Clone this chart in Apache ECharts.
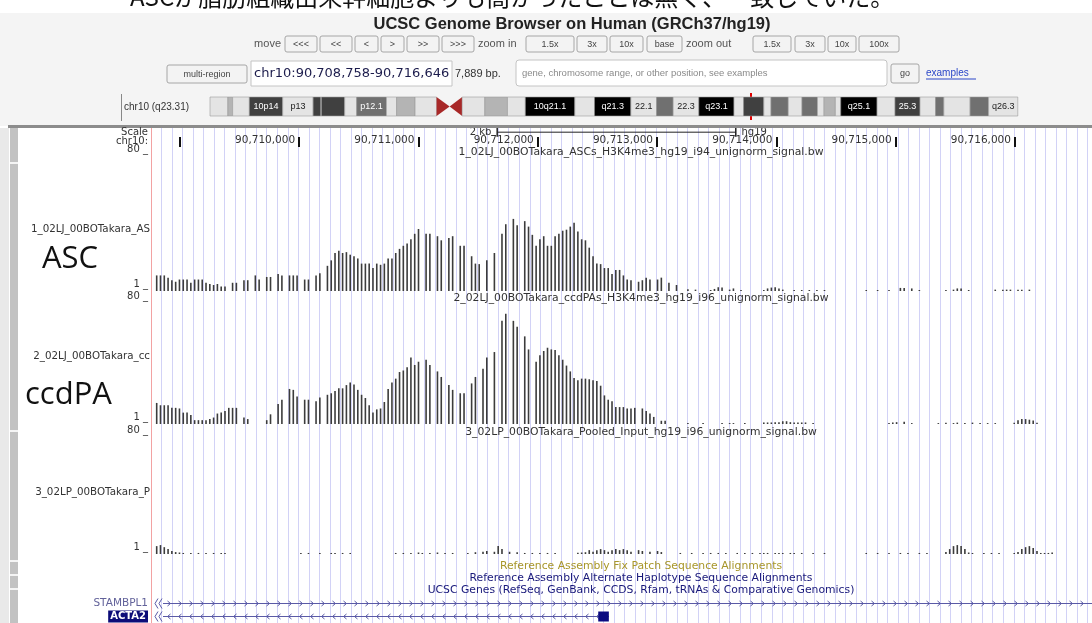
<!DOCTYPE html>
<html>
<head>
<meta charset="utf-8">
<title>UCSC Genome Browser on Human (GRCh37/hg19)</title>
<script src="https://cdn.jsdelivr.net/npm/echarts@6/dist/echarts.min.js"></script>
<style>
html, body { margin: 0; padding: 0; background: #fff; }
#main { width: 1092px; height: 623px; }
</style>
</head>
<body>
<div id="main"></div>
<script>
// ---- data ----
var regionStart = 90708758, regionEnd = 90716646;
var binCount = 248;          // signal bins across the window
var guideBp = 88.2;          // spacing of the blue guide lines
var trackMax = 80;
var rulerTicks = [90709000, 90710000, 90711000, 90712000, 90713000, 90714000, 90715000, 90716000];
var scaleBar = [90711660, 90713660];
var chr10Length = 135.534747; // Mb

// [bin, value]
var ascBars = [
    [1, 9.1], [2, 9.1], [3, 9.1], [4, 7.8], [5, 6.3], [6, 5.4], [7, 6.7], [8, 6.7], [9, 6.7], [10, 4.8],
    [11, 6.7], [12, 6.7], [13, 6.7], [14, 4.8], [15, 4.1], [16, 3.5], [17, 4.1], [18, 2.6], [19, 2.6],
    [21, 4.8], [22, 4.8], [24, 6.3], [25, 6.3], [27, 9.1], [28, 6.7], [30, 8.2], [31, 8.2], [33, 10], [34, 9.1],
    [36, 9.1], [37, 9.1], [38, 9.1], [40, 6.7], [41, 6.7], [43, 9.1], [44, 10.4],
    [46, 14.7], [47, 17.9], [48, 22.2], [49, 23.5], [50, 22.2], [51, 22.7], [52, 21.2], [53, 20.3], [54, 19],
    [55, 16], [56, 16], [57, 16], [58, 13.4], [59, 16], [60, 15.3], [61, 16], [62, 19], [63, 19], [64, 22.2],
    [65, 24.6], [66, 26.4], [67, 27.8], [68, 30.2], [69, 33.4], [70, 36.2],
    [72, 33.4], [73, 33.4], [75, 32], [76, 29.6], [78, 30.9], [79, 32], [81, 26.4], [82, 26.4], [84, 20.3],
    [85, 16], [86, 15.7], [88, 17.9], [90, 22.2],
    [92, 33.4], [93, 39], [95, 42.1], [96, 38.4], [98, 40.8], [99, 37.6], [100, 32.8], [101, 26.4], [102, 30.2],
    [103, 32], [104, 26.4], [105, 26.4], [106, 32], [107, 33.4], [108, 35.2], [109, 35.8], [110, 37.6], [111, 39.9],
    [112, 34.7], [113, 30.2], [114, 29.6], [115, 25.3], [116, 20.3], [117, 16], [118, 15.7], [119, 13.4], [120, 13.4],
    [121, 10], [122, 12.3], [123, 12.3], [124, 9.1], [125, 6.7], [126, 6.3], [128, 5.4], [129, 6.3], [130, 7.8],
    [131, 6.7], [133, 6.7], [134, 7.8], [136, 4.8], [138, 3.5],
    [141, 1.0], [143, 0.8], [147, 0.6], [148, 1.2], [149, 2.2], [150, 2.0], [152, 0.8], [153, 1.5], [155, 0.6],
    [161, 0.6], [162, 1.5], [163, 2.0], [164, 2.2], [165, 1.5], [166, 0.8], [169, 0.6], [171, 0.6], [173, 0.6],
    [175, 0.6], [177, 0.6], [188, 0.6], [191, 0.6], [194, 0.6], [197, 1.8], [198, 1.8], [200, 1.5], [202, 0.6],
    [209, 0.6], [211, 0.8], [212, 1.5], [213, 1.5], [215, 0.6],
    [222, 0.8], [224, 0.8], [225, 0.8], [226, 0.8], [228, 0.8], [229, 0.8], [231, 0.8]
];

var ccdpaBars = [
    [1, 13.7], [2, 12.2], [3, 12.2], [4, 12.2], [5, 10.5], [6, 10.5], [7, 10.1], [8, 7.4], [9, 7.4], [10, 5.9],
    [11, 2.5], [12, 2.5], [13, 2.5], [14, 2.5], [15, 3.2], [16, 4.2], [17, 6.8], [18, 7.4], [19, 8.4], [20, 10.5],
    [21, 10.5], [22, 10.5], [24, 4.2], [25, 3.2], [30, 2.5], [31, 6.3], [33, 13], [34, 15.8], [36, 22.8], [37, 22.2],
    [38, 17.9], [40, 15.8], [41, 15.8], [43, 14.8], [44, 17.3],
    [46, 19], [47, 20], [48, 21.5], [49, 23.2], [50, 23.2], [51, 25.3], [52, 27], [53, 25.7], [54, 22.2], [55, 19],
    [56, 16.9], [57, 12.2], [58, 7.4], [59, 9.5], [60, 10.1], [61, 14.3], [62, 22.8], [63, 27], [64, 29.5],
    [65, 33.8], [66, 34.8], [67, 36.9], [68, 43.3], [69, 38.4], [70, 40.5], [72, 41.8], [73, 38.4], [75, 34.2],
    [76, 30.6], [78, 25.3], [79, 22.2], [81, 20], [82, 20], [84, 26.4], [85, 30.6], [87, 35.9], [88, 43.3], [90, 46.8],
    [92, 67.1], [93, 71.7], [95, 67.1], [96, 63.3], [98, 57], [99, 48.5], [101, 40.5], [102, 44.7], [103, 47.5],
    [104, 49.6], [105, 48.5], [106, 48.1], [107, 44.7], [108, 41.8], [109, 38], [110, 34.2], [111, 30], [112, 28.5],
    [113, 29.5], [114, 29.5], [115, 29.1], [116, 28.5], [117, 27.9], [118, 24.9], [119, 18.6], [120, 15.8],
    [121, 14.8], [122, 11], [123, 11], [124, 11], [125, 10.1], [126, 10.1], [127, 10.5], [129, 10.1], [130, 8.4],
    [131, 6.8], [132, 4.6], [134, 2.1], [135, 2.1],
    [141, 0.6], [145, 0.6], [150, 0.6], [152, 0.6], [153, 0.6], [156, 0.6],
    [161, 1.0], [162, 1.0], [163, 1.0], [164, 1.2], [165, 1.2], [166, 1.8], [167, 1.8], [168, 1.2], [169, 1.0],
    [170, 1.0], [171, 1.0], [172, 1.0], [174, 0.6],
    [194, 0.6], [195, 1.0], [196, 1.2], [198, 1.5], [200, 0.6],
    [207, 0.6], [209, 0.8], [211, 0.6], [212, 0.9], [214, 0.6], [216, 0.9], [218, 0.6], [220, 0.6], [222, 0.6],
    [227, 0.8], [228, 2.5], [229, 3.2], [230, 3.2], [231, 2.8], [232, 2.2], [233, 0.8]
];

var inputBars = [
    [1, 5.3], [2, 6.0], [3, 4.6], [4, 3.3], [5, 2.0], [6, 1.3], [7, 1.0], [8, 0.7], [10, 0.7], [12, 0.7],
    [14, 0.7], [16, 0.7], [18, 0.7], [19, 0.7],
    [39, 0.7], [41, 0.7], [44, 0.7], [47, 0.7], [48, 0.7], [50, 0.7], [52, 0.7],
    [64, 0.7], [66, 0.7], [68, 0.7], [70, 1.0], [71, 0.7], [73, 0.7], [75, 1.0], [77, 0.7], [79, 0.7],
    [83, 0.7], [85, 1.2], [87, 1.5], [88, 2.0], [90, 1.5], [91, 5.3], [92, 3.3], [94, 1.5], [96, 1.2], [98, 0.7],
    [100, 0.7], [102, 0.7], [104, 0.7], [106, 0.7],
    [112, 0.8], [113, 1.0], [114, 1.2], [115, 2.6], [116, 1.5], [117, 2.6], [118, 3.3], [119, 2.6], [120, 1.5],
    [121, 2.6], [122, 3.3], [123, 2.6], [124, 3.3], [125, 2.6], [126, 1.5], [128, 2.6], [129, 2.0], [131, 1.5],
    [133, 2.0], [134, 1.3],
    [139, 0.7], [142, 0.7], [145, 0.7], [147, 0.7], [149, 0.7], [151, 0.7], [154, 0.7], [156, 0.7], [158, 0.7],
    [160, 0.7], [161, 0.7], [162, 0.7], [164, 0.7], [165, 0.7], [166, 0.7], [168, 0.7], [169, 0.7], [171, 0.7],
    [174, 0.7], [177, 0.7],
    [188, 0.7], [191, 0.7], [194, 0.7], [197, 0.7], [199, 0.7], [202, 0.7], [204, 0.7],
    [209, 1.3], [210, 3.3], [211, 5.3], [212, 6.0], [213, 5.3], [214, 3.3], [215, 1.0], [216, 0.7],
    [219, 0.7], [221, 0.7], [223, 0.7],
    [227, 0.7], [228, 1.3], [229, 3.3], [230, 4.6], [231, 5.3], [232, 4.0], [233, 2.0], [234, 0.7], [235, 0.7],
    [236, 0.7], [237, 1.0]
];

var geneNames = ['STAMBPL1', 'ACTA2'];
var geneStart = [90700000, 90700000];
var geneEnd = [90730000, 90712596];
var geneStrand = ['+', '-'];
var geneExons = [[], [[90712507, 90712596]]];

// chr10 cytobands (Mb): start, end, stain, shown label
var cytoBands = [
    [0, 3.0, 'gneg', ''], [3.0, 3.8, 'gpos25', ''], [3.8, 6.6, 'gneg', ''], [6.6, 12.2, 'gpos75', '10p14'],
    [12.2, 17.3, 'gneg', 'p13'], [17.3, 18.6, 'gpos75', ''], [18.6, 18.7, 'gneg', ''], [18.7, 22.6, 'gpos75', ''],
    [22.6, 24.6, 'gneg', ''], [24.6, 29.6, 'gpos50', 'p12.1'], [29.6, 31.3, 'gneg', ''], [31.3, 34.4, 'gpos25', ''],
    [34.4, 38.0, 'gneg', ''], [38.0, 40.2, 'acen', ''], [40.2, 42.3, 'acen', ''], [42.3, 46.1, 'gneg', ''],
    [46.1, 49.9, 'gpos25', ''], [49.9, 52.9, 'gneg', ''], [52.9, 61.2, 'gpos100', '10q21.1'], [61.2, 64.5, 'gneg', ''],
    [64.5, 70.6, 'gpos100', 'q21.3'], [70.6, 74.9, 'gneg', '22.1'], [74.9, 77.7, 'gpos50', ''], [77.7, 82.0, 'gneg', '22.3'],
    [82.0, 87.9, 'gpos100', 'q23.1'], [87.9, 89.5, 'gneg', ''], [89.5, 92.9, 'gpos75', ''], [92.9, 94.1, 'gneg', ''],
    [94.1, 97.0, 'gpos50', ''], [97.0, 99.3, 'gneg', ''], [99.3, 101.9, 'gpos50', ''], [101.9, 103.0, 'gneg', ''],
    [103.0, 104.9, 'gpos25', ''], [104.9, 105.8, 'gneg', ''], [105.8, 111.9, 'gpos100', 'q25.1'], [111.9, 114.9, 'gneg', ''],
    [114.9, 119.1, 'gpos75', '25.3'], [119.1, 121.7, 'gneg', ''], [121.7, 123.1, 'gpos50', ''], [123.1, 127.5, 'gneg', ''],
    [127.5, 130.6, 'gpos50', ''], [130.6, 135.5, 'gneg', 'q26.3']
];

// ---- styling helpers ----
var uiFont = '"Liberation Sans", Arial, sans-serif';
var trackFont = '"DejaVu Sans", sans-serif';
var stainColor = { gneg: '#e4e4e4', gpos25: '#b4b4b4', gpos50: '#707070', gpos75: '#404040', gpos100: '#000', acen: '#a82828' };

var binLabels = [];
for (var i = 0; i < binCount; i++) {
    binLabels.push(String(Math.round(regionStart + i * (regionEnd - regionStart) / binCount)));
}

function txt(text, x, y, size, opts) {
    opts = opts || {};
    return {
        type: 'text', z: 20,
        style: {
            text: text, x: x, y: y,
            font: (opts.weight || '') + ' ' + size + 'px ' + (opts.family || uiFont),
            fill: opts.color || '#333',
            align: opts.align || 'left',
            verticalAlign: 'middle'
        }
    };
}

function button(x, y, w, h, label) {
    return [{
        type: 'rect', z: 10,
        shape: { x: x, y: y, width: w, height: h, r: 2 },
        style: { fill: '#f3f3f3', stroke: '#a6a6a6', lineWidth: 1 }
    }, txt(label, x + w / 2, y + h / 2 + 0.5, 9, { align: 'center', color: '#444' })];
}

var g = [];
// page header panel
g.push({ type: 'rect', z: 1, shape: { x: 0, y: 13, width: 1092, height: 113 }, style: { fill: '#f4f4f4' } });
g.push(txt('ASCが脂肪組織由来幹細胞よりも高かったことは無く、一致していた。', 130, -3, 24,
    { family: '"Noto Sans CJK JP"', color: '#111' }));
g.push(txt('UCSC Genome Browser on Human (GRCh37/hg19)', 572, 24, 16.5, { weight: 'bold', align: 'center', color: '#222' }));

// navigation row
g.push(txt('move', 281, 44, 11, { align: 'right', color: '#555' }));
[['<<<', 285, 32], ['<<', 320, 32], ['<', 355, 23], ['>', 381, 23], ['>>', 407, 32], ['>>>', 442, 32]]
    .forEach(function(b) { g = g.concat(button(b[1], 36, b[2], 16, b[0])); });
g.push(txt('zoom in', 478, 44, 11, { color: '#555' }));
[['1.5x', 526, 48], ['3x', 577, 30], ['10x', 610, 33], ['base', 647, 35]]
    .forEach(function(b) { g = g.concat(button(b[1], 36, b[2], 16, b[0])); });
g.push(txt('zoom out', 686, 44, 11, { color: '#555' }));
[['1.5x', 753, 38], ['3x', 795, 30], ['10x', 828, 28], ['100x', 859, 40]]
    .forEach(function(b) { g = g.concat(button(b[1], 36, b[2], 16, b[0])); });

// position row
g = g.concat(button(167, 65, 80, 18, 'multi-region'));
g.push({ type: 'rect', z: 10, shape: { x: 251, y: 61, width: 201, height: 25 }, style: { fill: '#fff', stroke: '#c4c4c4' } });
g.push(txt('chr10:90,708,758-90,716,646', 254, 74, 13, { color: '#1c1c4c', family: trackFont }));
g.push(txt('7,889 bp.', 455, 74, 11, { color: '#333' }));
g.push({ type: 'rect', z: 10, shape: { x: 516, y: 60, width: 371, height: 26, r: 3 }, style: { fill: '#fff', stroke: '#c4c4c4' } });
g.push(txt('gene, chromosome range, or other position, see examples', 522, 73, 9.5, { color: '#8a8a8a' }));
g = g.concat(button(891, 64, 28, 19, 'go'));
g.push(txt('examples', 926, 73, 10, { color: '#2a46c8' }));
g.push({ type: 'line', z: 10, shape: { x1: 926, y1: 79, x2: 976, y2: 79 }, style: { stroke: '#2a46c8', lineWidth: 1 } });

// ideogram row
g.push({ type: 'line', z: 10, shape: { x1: 121.5, y1: 94, x2: 121.5, y2: 121 }, style: { stroke: '#888', lineWidth: 1 } });
g.push(txt('chr10 (q23.31)', 124, 107, 10, { color: '#333' }));

// track image frame
g.push({ type: 'rect', z: 10, shape: { x: 8, y: 125, width: 1084, height: 3 }, style: { fill: '#8c8c8c' } });
g.push({ type: 'rect', z: 10, shape: { x: 0, y: 128, width: 9, height: 495 }, style: { fill: '#e9e9e9' } });
g.push({ type: 'rect', z: 10, shape: { x: 10, y: 128, width: 8, height: 495 }, style: { fill: '#c2c2c2' } });
[162, 430, 560, 574, 588].forEach(function(y) {
    g.push({ type: 'rect', z: 11, shape: { x: 10, y: y, width: 8, height: 2 }, style: { fill: '#f4f4f4' } });
});

// left labels
g.push(txt('Scale', 148, 132, 10, { align: 'right', family: trackFont }));
g.push(txt('chr10:', 148, 141, 10, { align: 'right', family: trackFont }));
g.push(txt('1_02LJ_00BOTakara_AS', 150, 229, 10.3, { align: 'right', family: trackFont }));
g.push(txt('ASC', 42, 259, 31, { family: '"Open Sans", sans-serif', color: '#111' }));
g.push(txt('2_02LJ_00BOTakara_cc', 150, 356, 10.3, { align: 'right', family: trackFont }));
g.push(txt('ccdPA', 25, 395, 31, { family: '"Open Sans", sans-serif', color: '#111' }));
g.push(txt('3_02LP_00BOTakara_P', 150, 492, 10.3, { align: 'right', family: trackFont }));

// centre labels
var mid = 641;
g.push(txt('1_02LJ_00BOTakara_ASCs_H3K4me3_hg19_i94_unignorm_signal.bw', mid, 152, 10.8, { align: 'center', family: trackFont }));
g.push(txt('2_02LJ_00BOTakara_ccdPAs_H3K4me3_hg19_i96_unignorm_signal.bw', mid, 298, 10.8, { align: 'center', family: trackFont }));
g.push(txt('3_02LP_00BOTakara_Pooled_Input_hg19_i96_unignorm_signal.bw', mid, 432, 10.8, { align: 'center', family: trackFont }));
g.push(txt('Reference Assembly Fix Patch Sequence Alignments', mid, 566, 10.8, { align: 'center', color: '#a8962a', family: trackFont }));
g.push(txt('Reference Assembly Alternate Haplotype Sequence Alignments', mid, 578, 10.8, { align: 'center', color: '#18187a', family: trackFont }));
g.push(txt('UCSC Genes (RefSeq, GenBank, CCDS, Rfam, tRNAs & Comparative Genomics)', mid, 590, 10.8, { align: 'center', color: '#18187a', family: trackFont }));

// ---- render helpers ----
function renderBand(params, api) {
    var b = cytoBands[params.dataIndex];
    var cs = params.coordSys;
    var x0 = api.coord([b[0], 0])[0], x1 = api.coord([b[1], 0])[0];
    var y = cs.y + 4, h = cs.height - 8;
    var kids = [];
    if (b[2] === 'acen') {
        var prevAcen = params.dataIndex > 0 && cytoBands[params.dataIndex - 1][2] === 'acen';
        var pts = prevAcen ? [[x0, y + h / 2], [x1, y], [x1, y + h]] : [[x0, y], [x1, y + h / 2], [x0, y + h]];
        kids.push({ type: 'polygon', shape: { points: pts }, style: { fill: stainColor.acen } });
    } else {
        kids.push({
            type: 'rect', shape: { x: x0, y: y, width: x1 - x0, height: h },
            style: { fill: stainColor[b[2]], stroke: '#9a9a9a', lineWidth: 0.6 }
        });
        if (b[3]) {
            var dark = b[2] === 'gpos100' || b[2] === 'gpos75' || b[2] === 'gpos50';
            kids.push({
                type: 'text',
                style: {
                    text: b[3], x: (x0 + x1) / 2, y: y + h / 2, align: 'center', verticalAlign: 'middle',
                    font: '9px ' + uiFont, fill: dark ? '#fff' : '#222'
                }
            });
        }
    }
    return { type: 'group', children: kids };
}

function renderGene(params, api) {
    var k = params.dataIndex;
    var cs = params.coordSys;
    var color = '#5a5aa6';
    var y = api.coord([regionStart, k])[1];
    var left = api.coord([geneStart[k], k])[0];
    var right = api.coord([geneEnd[k], k])[0];
    var x0 = Math.max(left, cs.x), x1 = Math.min(right, cs.x + cs.width);
    var kids = [];
    if (left < cs.x) {
        [cs.x + 4, cs.x + 8].forEach(function(cx) {
            kids.push({ type: 'polyline', shape: { points: [[cx + 3, y - 5], [cx, y], [cx + 3, y + 5]] },
                style: { stroke: color, fill: null, lineWidth: 1 } });
        });
        x0 = cs.x + 12;
    }
    kids.push({ type: 'line', shape: { x1: x0, y1: y, x2: x1, y2: y }, style: { stroke: color, lineWidth: 1 } });
    var d = geneStrand[k] === '+' ? -1.5 : 1.5;
    for (var cx = x0 + 6; cx < x1 - 4; cx += 11) {
        kids.push({ type: 'polyline', shape: { points: [[cx + d, y - 2.5], [cx - d, y], [cx + d, y + 2.5]] },
            style: { stroke: color, fill: null, lineWidth: 1 } });
    }
    geneExons[k].forEach(function(ex) {
        var a = api.coord([ex[0], k])[0], b = api.coord([ex[1], k])[0];
        kids.push({ type: 'rect', shape: { x: a, y: y - 5, width: b - a, height: 10 }, style: { fill: '#0a0a80' } });
    });
    return { type: 'group', children: kids };
}

function trackYAxis(grid) {
    return {
        gridIndex: grid, type: 'value', min: 0, max: trackMax,
        axisLine: { show: false }, axisTick: { show: false }, splitLine: { show: false },
        axisLabel: {
            customValues: [1, trackMax], margin: 3, verticalAlign: 'bottom',
            fontSize: 10, fontFamily: trackFont, color: '#333',
            formatter: function(v) { return v + ' _'; }
        }
    };
}

function trackXAxis(grid) {
    return { gridIndex: grid, type: 'category', data: binLabels, show: false };
}

function trackSeries(idx, data) {
    return {
        type: 'bar', xAxisIndex: idx, yAxisIndex: idx, data: data,
        barWidth: 1.6, silent: true, z: 5,
        itemStyle: { color: '#3c3c3c' }
    };
}

var chart = echarts.init(document.getElementById('main'));
var option = {
    animation: false,
    backgroundColor: '#fff',
    graphic: g,
    grid: [
        { left: 151, top: 128, width: 981, height: 495 },   // guide lines
        { left: 151, top: 128, width: 981, height: 19 },    // ruler
        { left: 151, top: 154, width: 981, height: 137 },   // ASC
        { left: 151, top: 301, width: 981, height: 123 },   // ccdPA
        { left: 151, top: 435, width: 981, height: 119 },   // input
        { left: 151, top: 597, width: 981, height: 26 },    // genes
        { left: 210, top: 93, width: 808, height: 27 }      // ideogram
    ],
    xAxis: [{
        gridIndex: 0, type: 'value', min: 0, max: (regionEnd - regionStart) / guideBp, interval: 1,
        axisLine: { show: false }, axisTick: { show: false }, axisLabel: { show: false },
        splitLine: { show: true, lineStyle: { color: '#d2d2f6', width: 1 } }
    }, {
        gridIndex: 1, type: 'value', min: regionStart, max: regionEnd, position: 'bottom',
        axisLine: { show: false }, splitLine: { show: false },
        axisTick: { show: true, inside: true, length: 10, customValues: rulerTicks, lineStyle: { color: '#111', width: 2 } },
        axisLabel: {
            inside: true, customValues: rulerTicks.slice(1), align: 'right', margin: 1,
            padding: [0, 4, 0, 0], fontSize: 10.5, fontFamily: trackFont, color: '#333',
            formatter: function(v) { return v.toLocaleString('en-US'); }
        }
    },
        trackXAxis(2), trackXAxis(3), trackXAxis(4),
    {
        gridIndex: 5, type: 'value', min: regionStart, max: regionEnd, show: false
    }, {
        gridIndex: 6, type: 'value', min: 0, max: chr10Length, show: false
    }],
    yAxis: [{
        gridIndex: 0, type: 'value', min: 0, max: 1,
        axisLine: { show: true, lineStyle: { color: '#f2a2a2', width: 1 } },
        axisTick: { show: false }, axisLabel: { show: false }, splitLine: { show: false }
    }, {
        gridIndex: 1, type: 'value', min: 0, max: 1, show: false
    },
        trackYAxis(2), trackYAxis(3), trackYAxis(4),
    {
        gridIndex: 5, type: 'category', data: geneNames, inverse: true,
        axisLine: { show: false }, axisTick: { show: false }, splitLine: { show: false },
        axisLabel: {
            interval: 0, margin: 3, fontSize: 10, fontFamily: trackFont,
            formatter: function(v) { return v === 'ACTA2' ? '{hl|' + v + '}' : '{n|' + v + '}'; },
            rich: {
                n: { color: '#62629a', fontSize: 10.5, fontFamily: trackFont },
                hl: { color: '#fff', backgroundColor: '#0c0c78', fontSize: 10, fontWeight: 'bold', fontFamily: trackFont, padding: [1, 2, 1, 2] }
            }
        }
    }, {
        gridIndex: 6, type: 'value', min: 0, max: 1, show: false
    }],
    series: [{
        type: 'line', xAxisIndex: 1, yAxisIndex: 1, silent: true,
        symbol: 'rect', symbolSize: [1.5, 9],
        lineStyle: { color: '#222', width: 1 }, itemStyle: { color: '#222' },
        data: [
            { value: [scaleBar[0], 0.78], label: { show: true, position: 'left', formatter: '2 kb', fontSize: 10, fontFamily: trackFont, color: '#333' } },
            { value: [scaleBar[1], 0.78], label: { show: true, position: 'right', formatter: 'hg19', fontSize: 10, fontFamily: trackFont, color: '#333' } }
        ]
    },
        trackSeries(2, ascBars),
        trackSeries(3, ccdpaBars),
        trackSeries(4, inputBars),
    {
        type: 'custom', xAxisIndex: 5, yAxisIndex: 5, silent: true, z: 5,
        renderItem: renderGene,
        data: geneNames.map(function(n, k) { return [geneStart[k], k, geneEnd[k]]; }),
        encode: { x: [0, 2], y: 1 }
    }, {
        type: 'custom', xAxisIndex: 6, yAxisIndex: 6, silent: true, z: 12,
        renderItem: renderBand,
        data: cytoBands.map(function(b) { return [b[0], b[1]]; }),
        encode: { x: [0, 1] },
        markLine: {
            silent: true, symbol: 'none', label: { show: false },
            lineStyle: { color: '#e00000', width: 2, type: 'solid' },
            data: [{ xAxis: (regionStart + regionEnd) / 2 / 1e6 }]
        }
    }]
};
chart.setOption(option);

window.addEventListener('resize', function() {
    chart.resize();
});
</script>
</body>
</html>
